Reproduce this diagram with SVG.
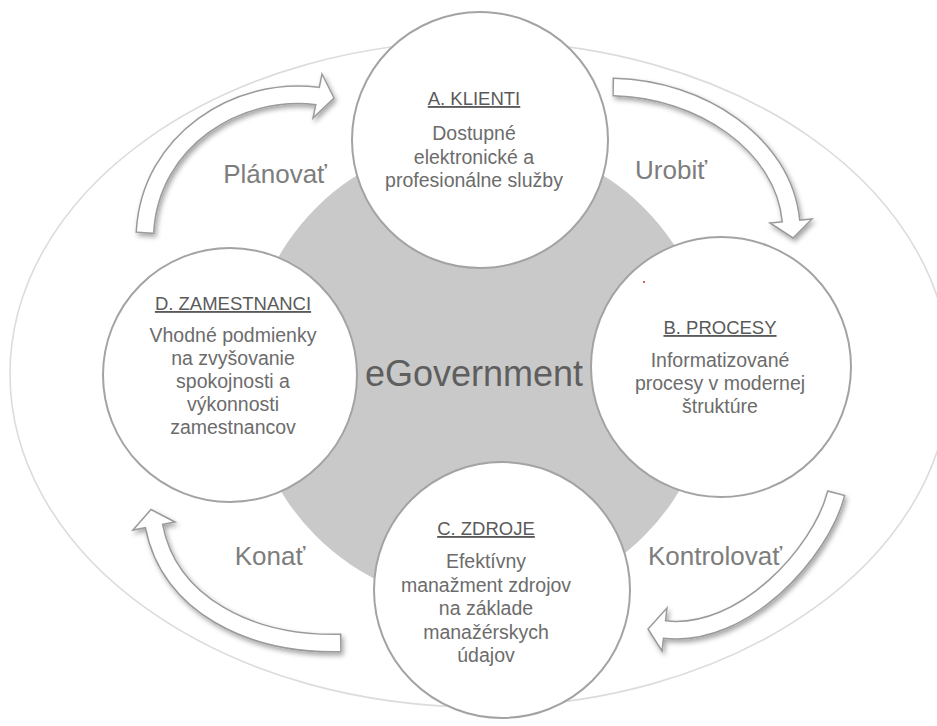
<svg xmlns="http://www.w3.org/2000/svg" width="937" height="726" viewBox="0 0 937 726">
  <defs>
    <filter id="shadow" x="-20%" y="-20%" width="140%" height="140%">
      <feDropShadow dx="2" dy="3" stdDeviation="2.5" flood-color="#000" flood-opacity="0.35"/>
    </filter>
  </defs>
  <style>
    .frame { fill: none; stroke: #dcdcdc; stroke-width: 1.6; }
    .hub { fill: #c9c9c9; }
    .node circle { fill: #fff; stroke: #a3a3a3; stroke-width: 2; }
    .title { font-family: "Liberation Sans", Arial, sans-serif; font-size: 18.5px; fill: #5a5a5a; text-anchor: middle; text-decoration: underline; }
    .body { font-family: "Liberation Sans", Arial, sans-serif; font-size: 19.5px; fill: #6c6c6c; text-anchor: middle; }
    .center { font-family: "Liberation Sans", Arial, sans-serif; font-size: 36px; fill: #5e5e5e; text-anchor: middle; }
    .phase { font-family: "Liberation Sans", Arial, sans-serif; font-size: 26px; fill: #7d7d7d; text-anchor: middle; }
    .edge { fill: none; stroke: #9a9a9a; stroke-width: 19; stroke-linecap: butt; }
    .fill { fill: none; stroke: #fff; stroke-width: 16; stroke-linecap: butt; }
    .head { fill: #fff; stroke: #9a9a9a; stroke-width: 1.5; stroke-linejoin: miter; }
  </style>

  <!-- outer frame and central hub -->
  <ellipse class="frame" cx="480" cy="374" rx="470" ry="333"/>
  <circle class="hub" cx="480" cy="372" r="232"/>
  <text class="center" x="474" y="386">eGovernment</text>

  <!-- nodes -->
  <g id="node-klienti" class="node">
    <circle cx="480" cy="140" r="128"/>
    <text class="title" x="474" y="105">A. KLIENTI</text>
    <text class="body" x="474" y="140">Dostupné</text>
    <text class="body" x="474" y="163.5">elektronické a</text>
    <text class="body" x="474" y="187">profesionálne služby</text>
  </g>

  <g id="node-procesy" class="node">
    <circle cx="721" cy="367" r="130"/>
    <text class="title" x="720" y="334">B. PROCESY</text>
    <text class="body" x="720" y="367">Informatizované</text>
    <text class="body" x="720" y="390">procesy v modernej</text>
    <text class="body" x="720" y="413">štruktúre</text>
  </g>

  <g id="node-zdroje" class="node">
    <circle cx="502" cy="590" r="128"/>
    <text class="title" x="486" y="535">C. ZDROJE</text>
    <text class="body" x="486" y="568">Efektívny</text>
    <text class="body" x="486" y="591.5">manažment zdrojov</text>
    <text class="body" x="486" y="615">na základe</text>
    <text class="body" x="486" y="638.5">manažérskych</text>
    <text class="body" x="486" y="662">údajov</text>
  </g>

  <g id="node-zamestnanci" class="node">
    <circle cx="230" cy="375" r="127"/>
    <text class="title" x="233" y="310">D. ZAMESTNANCI</text>
    <text class="body" x="233" y="342">Vhodné podmienky</text>
    <text class="body" x="233" y="365">na zvyšovanie</text>
    <text class="body" x="233" y="388">spokojnosti a</text>
    <text class="body" x="233" y="411">výkonnosti</text>
    <text class="body" x="233" y="434">zamestnancov</text>
  </g>

  <circle cx="644" cy="282" r="1.1" fill="#d04040"/>

  <!-- cycle arrows -->
  <g id="connectors">
    <g id="arrow-planovat" filter="url(#shadow)">
      <path class="edge" d="M144.9 233.5 L145 232 C150 140 238 85.6 317.5 96"/>
      <polygon class="head" points="322,74 334,98 313,118"/>
      <path class="fill" d="M145 232 C150 140 238 85.6 317.5 96 L319.5 96.3"/>
    </g>
    <g id="arrow-urobit" filter="url(#shadow)">
      <path class="edge" d="M612.5 87 L614 87 C700 89 783.6 143.4 791 221"/>
      <polygon class="head" points="770,223 793,238 812,219"/>
      <path class="fill" d="M614 87 C700 89 783.6 143.4 791 221 L791.2 223"/>
    </g>
    <g id="arrow-kontrolovat" filter="url(#shadow)">
      <path class="edge" d="M836.4 492.5 L836 494 C821 552 744 638.7 664.5 629.5"/>
      <polygon class="head" points="667,608 648,629 662,651"/>
      <path class="fill" d="M836 494 C821 552 744 638.7 664.5 629.5 L662.5 629.3"/>
    </g>
    <g id="arrow-konat" filter="url(#shadow)">
      <path class="edge" d="M341.5 643 L340 643 C250 645 169 604.6 154 526"/>
      <polygon class="head" points="133,530 151,509.5 175,522"/>
      <path class="fill" d="M340 643 C250 645 169 604.6 154 526 L153.6 524"/>
    </g>
  </g>

  <!-- phase labels -->
  <text class="phase" x="275" y="183">Plánovať</text>
  <text class="phase" x="671" y="179">Urobiť</text>
  <text class="phase" x="715" y="565">Kontrolovať</text>
  <text class="phase" x="270" y="565">Konať</text>
</svg>
